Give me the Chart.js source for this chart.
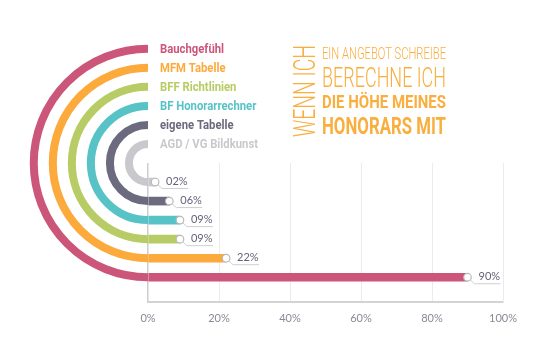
<!DOCTYPE html>
<html><head><meta charset="utf-8">
<script src="https://cdn.jsdelivr.net/npm/chart.js@4/dist/chart.umd.min.js"></script>
<style>html,body{margin:0;padding:0;background:#fff}canvas{display:block}</style>
</head><body>
<canvas id="c" width="550" height="357"></canvas>
<script>
const categories = ['Bauchgefühl','MFM Tabelle','BFF Richtlinien','BF Honorarrechner','eigene Tabelle','AGD / VG Bildkunst'];
const values = [90, 22, 9, 9, 6, 2];
const colors = ['#CB5679','#FCAA3C','#B7CC64','#57C3C6','#6B6A7E','#C9C9CD'];
const xTickValues = [0, 20, 40, 60, 80, 100];
const xTickLabels = ['0%','20%','40%','60%','80%','100%'];
const titleSide = 'WENN ICH';
const titleLines = ['EIN ANGEBOT SCHREIBE','BERECHNE ICH','DIE HÖHE MEINES','HONORARS MIT'];

const n = categories.length;
const points = values.map((v, i) => ({ x: v, y: n - i }));
const fmt = v => String(v).padStart(2, '0') + '%';

const LABEL_FONT = 'bold 13.5px Roboto, sans-serif';
const ORANGE = '#F9AE3D';

const decor = {
  id: 'decor',
  beforeDatasetsDraw(chart) {
    const {ctx, scales: {x, y}} = chart;
    const cx = x.getPixelForValue(0), cy = y.getPixelForValue(0);
    ctx.save();
    ctx.lineWidth = 8;
    ctx.lineCap = 'butt';
    ctx.font = LABEL_FONT;
    const sx = 98 / ctx.measureText(categories[n - 1]).width;
    categories.forEach((c, i) => {
      const r = y.getPixelForValue(n - i) - cy;
      ctx.strokeStyle = colors[i];
      ctx.beginPath();
      ctx.arc(cx, cy, r, -Math.PI / 2, Math.PI / 2, true);
      ctx.stroke();
      ctx.fillStyle = colors[i];
      ctx.textBaseline = 'middle';
      ctx.textAlign = 'left';
      ctx.save();
      ctx.translate(cx + 12, cy - r + 0.5);
      ctx.scale(sx, 1);
      ctx.fillText(c, 0, 0);
      ctx.restore();
    });
    ctx.restore();
  },
  afterDatasetsDraw(chart) {
    const {ctx} = chart;
    const meta = chart.getDatasetMeta(0);
    ctx.save();
    meta.data.forEach((el, i) => {
      const bx = el.x, by = el.y;
      ctx.strokeStyle = '#cfcfcf';
      ctx.lineWidth = 1;
      ctx.beginPath();
      ctx.moveTo(bx + 2, by + 2);
      ctx.lineTo(bx + 7, by + 6.5);
      ctx.lineTo(bx + 33, by + 6.5);
      ctx.stroke();
      ctx.beginPath();
      ctx.arc(bx, by, 3.8, 0, Math.PI * 2);
      ctx.fillStyle = '#fff';
      ctx.fill();
      ctx.strokeStyle = '#b9b9b9';
      ctx.lineWidth = 1.2;
      ctx.stroke();
      ctx.fillStyle = '#64637a';
      ctx.font = '11px Lato, sans-serif';
      ctx.textBaseline = 'middle';
      ctx.textAlign = 'left';
      ctx.fillText(fmt(values[i]), bx + 11, by - 1);
    });
    // title block
    ctx.fillStyle = ORANGE;
    ctx.textAlign = 'left';
    ctx.textBaseline = 'alphabetic';
    ctx.save();
    ctx.translate(315, 137);
    ctx.rotate(-Math.PI / 2);
    ctx.font = '300 31px Roboto, sans-serif';
    ctx.fillText(titleSide, 0, 0, 92);
    ctx.restore();
    const W = 124, X = 322;
    const specs = [
      ['300 16px Roboto, sans-serif', 58.5],
      ['300 27px Roboto, sans-serif', 87],
      ['bold 19px Roboto, sans-serif', 108],
      ['bold 23.5px Roboto, sans-serif', 134]
    ];
    titleLines.forEach((t, i) => {
      ctx.font = specs[i][0];
      ctx.fillText(t, X, specs[i][1], W);
    });
    ctx.restore();
  }
};

new Chart(document.getElementById('c'), {
  type: 'bar',
  data: {
    datasets: [{
      data: points,
      backgroundColor: colors,
      barThickness: 8,
      borderWidth: 0
    }]
  },
  options: {
    indexAxis: 'y',
    responsive: false,
    animation: false,
    layout: { padding: { left: 148, right: 47, top: 163, bottom: 21.8 } },
    plugins: { legend: { display: false }, tooltip: { enabled: false } },
    scales: {
      y: { type: 'linear', reverse: true, min: 0, max: 7.3, offset: false, display: false },
      x: {
        type: 'linear', min: 0, max: 100, offset: false,
        afterBuildTicks: s => { s.ticks = xTickValues.map(v => ({ value: v })); },
        ticks: {
          padding: 10,
          color: '#8a8996',
          font: { family: 'Lato', size: 11 },
          callback: (v) => xTickLabels[xTickValues.indexOf(v)]
        },
        grid: {
          drawTicks: false,
          color: c => (c.tick && c.tick.value === 0) ? '#cdcdcd' : '#ebebeb',
          lineWidth: c => (c.tick && c.tick.value === 0) ? 1.5 : 1
        },
        border: { color: '#d3d3d3', width: 2 }
      }
    }
  },
  plugins: [decor]
});
</script>
</body></html>
